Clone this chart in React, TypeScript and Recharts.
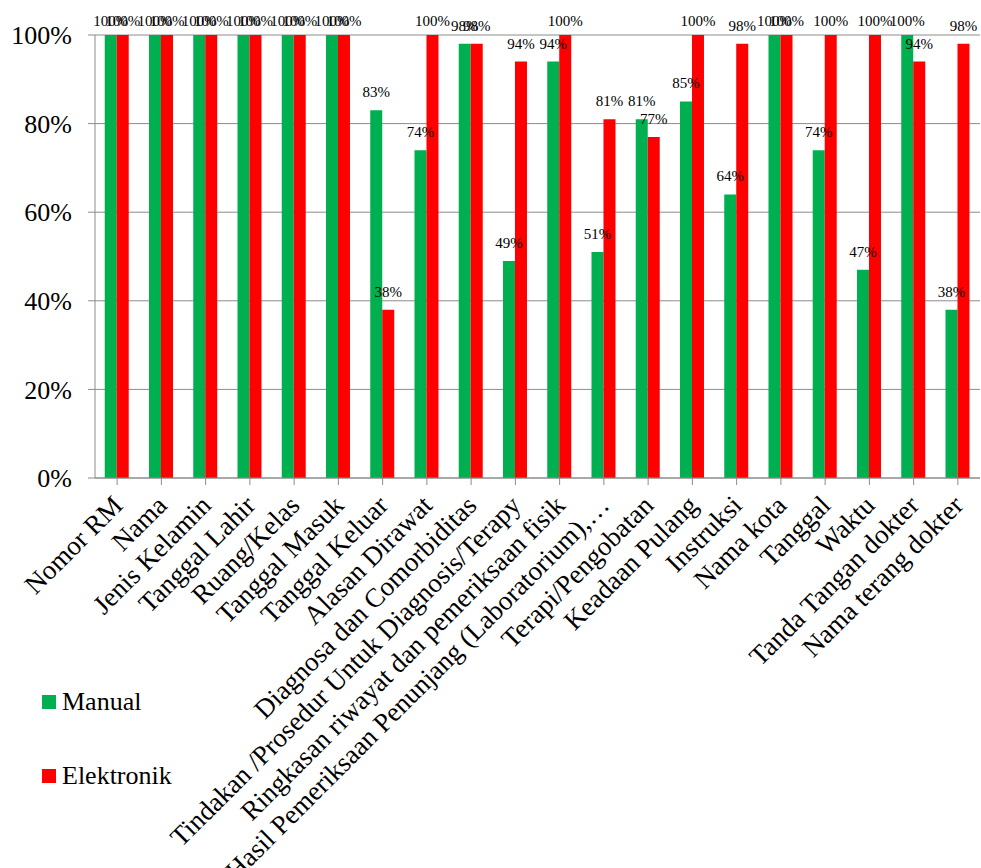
import { BarChart, Bar, XAxis, YAxis, CartesianGrid, Legend, LabelList } from 'recharts';

const categories = [
  'Nomor RM',
  'Nama',
  'Jenis Kelamin',
  'Tanggal Lahir',
  'Ruang/Kelas',
  'Tanggal Masuk',
  'Tanggal Keluar',
  'Alasan Dirawat',
  'Diagnosa dan Comorbiditas',
  'Tindakan /Prosedur Untuk Diagnosis/Terapy',
  'Ringkasan riwayat dan pemeriksaan fisik',
  'Hasil Pemeriksaan Penunjang (Laboratorium),…',
  'Terapi/Pengobatan',
  'Keadaan Pulang',
  'Instruksi',
  'Nama kota',
  'Tanggal',
  'Waktu',
  'Tanda Tangan dokter',
  'Nama terang dokter',
];

const manual = [100, 100, 100, 100, 100, 100, 83, 74, 98, 49, 94, 51, 81, 85, 64, 100, 74, 47, 100, 38];
const elektronik = [100, 100, 100, 100, 100, 100, 38, 100, 98, 94, 100, 81, 77, 100, 98, 100, 100, 100, 94, 98];

const yTicks = [0, 20, 40, 60, 80, 100];

const data = categories.map((name, i) => ({ name, manual: manual[i], elektronik: elektronik[i] }));

const FONT = "'Liberation Serif', 'Times New Roman', serif";
const GREEN = '#00B050';
const RED = '#FF0000';
const GRID = '#8c8c8c';

function CategoryTick({ x, y, payload }: any) {
  return (
    <g transform={`translate(${x + 7},${y + 22})`}>
      <text textAnchor="end" transform="rotate(-45)" fontSize={27} fill="#000" fontFamily={FONT}>
        {payload.value}
      </text>
    </g>
  );
}

function ValueLabel({ x, y, width, value }: any) {
  // keep labels inside the chart area, like Excel does
  const ty = Math.max(y - 13, 26);
  return (
    <text x={x + width / 2} y={ty} textAnchor="middle" fontSize={15} fill="#000" fontFamily={FONT}>
      {value}%
    </text>
  );
}

function LegendBox() {
  const items = [
    { label: 'Manual', color: GREEN },
    { label: 'Elektronik', color: RED },
  ];
  return (
    <div style={{ fontFamily: FONT, fontSize: 26, color: '#000' }}>
      {items.map((it) => (
        <div key={it.label} style={{ display: 'flex', alignItems: 'center', height: 30, marginBottom: 44 }}>
          <span style={{ width: 14, height: 14, background: it.color, display: 'inline-block', marginRight: 6 }} />
          <span>{it.label}</span>
        </div>
      ))}
    </div>
  );
}

export default function App() {
  return (
    <div style={{ position: 'absolute', left: 0, top: 0, background: '#fff' }}>
      <BarChart
        width={981}
        height={868}
        data={data}
        margin={{ top: 35, right: 1, left: 0, bottom: 0 }}
        barCategoryGap="22%"
        barGap={0}
      >
        <CartesianGrid vertical={false} stroke={GRID} />
        <XAxis
          dataKey="name"
          interval={0}
          height={390}
          tick={<CategoryTick />}
          tickSize={7}
          tickMargin={0}
          stroke={GRID}
        />
        <YAxis
          width={95}
          domain={[0, 100]}
          ticks={yTicks}
          tickFormatter={(v) => `${v}%`}
          tick={{ fill: '#000', fontSize: 26, fontFamily: FONT }}
          tickSize={7}
          tickMargin={16}
          stroke={GRID}
        />
        <Legend
          layout="vertical"
          align="center"
          verticalAlign="middle"
          wrapperStyle={{ left: 42, top: 687, width: 200 }}
          content={<LegendBox />}
        />
        <Bar dataKey="manual" name="Manual" fill={GREEN} isAnimationActive={false}>
          <LabelList dataKey="manual" content={<ValueLabel />} />
        </Bar>
        <Bar dataKey="elektronik" name="Elektronik" fill={RED} isAnimationActive={false}>
          <LabelList dataKey="elektronik" content={<ValueLabel />} />
        </Bar>
      </BarChart>
    </div>
  );
}
